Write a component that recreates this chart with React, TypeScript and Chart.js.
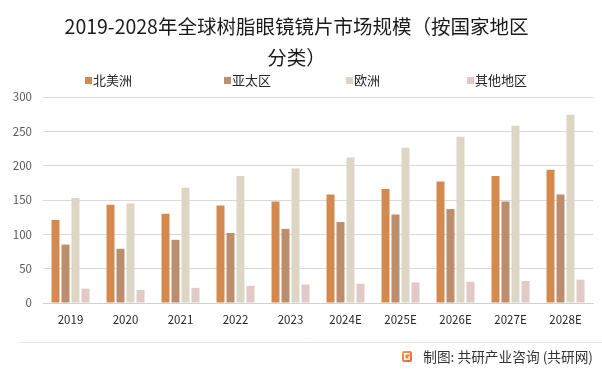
import React, { useEffect, useRef } from "react";
import { Chart, registerables } from "chart.js";

Chart.register(...registerables);

const categories = ["2019", "2020", "2021", "2022", "2023", "2024E", "2025E", "2026E", "2027E", "2028E"];
const northAmerica = [121, 143, 130, 142, 148, 158, 166, 177, 185, 194];
const asiaPacific = [85, 79, 92, 102, 108, 118, 129, 137, 148, 158];
const europe = [153, 145, 168, 185, 196, 212, 226, 242, 258, 274];
const others = [21, 19, 22, 25, 27, 28, 30, 31, 32, 34];
const seriesNames = ["北美洲", "亚太区", "欧洲", "其他地区"];
const seriesColors = ["#D48A4F", "#BC8E6E", "#DDD6C4", "#E1C9C7"];
const yTicks = [0, 50, 100, 150, 200, 250, 300];
const titleLines = ["2019-2028年全球树脂眼镜镜片市场规模（按国家地区", "分类）"];
const footerText = "制图: 共研产业咨询 (共研网)";

const FONT = "'Noto Sans CJK SC', 'Noto Sans', sans-serif";

const decorPlugin = {
  id: "decor",
  afterDraw(chart: any) {
    const ctx = chart.ctx as CanvasRenderingContext2D;
    ctx.save();
    // legend
    const legendX = [85, 224, 346, 467];
    ctx.font = `13px ${FONT}`;
    ctx.textBaseline = "middle";
    ctx.textAlign = "left";
    seriesNames.forEach((name, i) => {
      ctx.fillStyle = seriesColors[i];
      ctx.fillRect(legendX[i], 77, 7, 7);
      ctx.fillStyle = "#262626";
      ctx.fillText(name, legendX[i] + 8, 80.5);
    });
    // footer line
    ctx.strokeStyle = "#e3e3e3";
    ctx.lineWidth = 1;
    ctx.beginPath();
    ctx.moveTo(19, 342.5);
    ctx.lineTo(602, 342.5);
    ctx.stroke();
    // footer logo
    const grad = ctx.createLinearGradient(402, 351, 412, 363);
    grad.addColorStop(0, "#F5A04A");
    grad.addColorStop(1, "#E8603A");
    ctx.fillStyle = grad;
    ctx.beginPath();
    (ctx as any).roundRect ? (ctx as any).roundRect(402, 351, 10, 11, 2) : ctx.rect(402, 351, 10, 11);
    ctx.fill();
    ctx.fillStyle = "#ffffff";
    ctx.fillRect(404, 353, 6, 1.5);
    ctx.fillRect(404, 353, 1.5, 7);
    ctx.fillRect(404, 358.5, 6, 1.5);
    ctx.fillRect(408.5, 356, 1.5, 4);
    // footer text
    ctx.font = `13.7px ${FONT}`;
    ctx.fillStyle = "#333333";
    ctx.textAlign = "right";
    ctx.fillText(footerText, 593, 357);
    ctx.restore();
  },
};

export default function App() {
  const ref = useRef<HTMLCanvasElement | null>(null);
  useEffect(() => {
    document.body.style.margin = "0";
    const canvas = ref.current;
    if (!canvas) return;
    const data = [northAmerica, asiaPacific, europe, others];
    const chart = new Chart(canvas, {
      type: "bar",
      data: {
        labels: categories,
        datasets: seriesNames.map((name, i) => ({
          label: name,
          data: data[i],
          backgroundColor: seriesColors[i],
          borderWidth: 0,
          barPercentage: 0.8,
          categoryPercentage: 0.727,
        })),
      },
      plugins: [decorPlugin],
      options: {
        animation: false,
        responsive: false,
        maintainAspectRatio: false,
        devicePixelRatio: 1,
        layout: { padding: { left: 0, right: 9, top: 0, bottom: 0 } },
        plugins: {
          legend: { display: false },
          tooltip: { enabled: false },
          title: {
            display: true,
            text: titleLines,
            color: "#1a1a1a",
            font: { family: FONT, size: 19.5, weight: "normal", lineHeight: 1.59 },
            padding: { top: 11.5, bottom: 23.5 },
          },
        },
        scales: {
          x: {
            grid: { display: false, drawTicks: false },
            border: { display: true, color: "#d0d0d0" },
            ticks: {
              color: "#262626",
              font: { family: FONT, size: 11.5 },
              padding: 10,
              maxRotation: 0,
              autoSkip: false,
            },
            afterFit: (s: any) => {
              s.height = 71;
            },
          },
          y: {
            min: 0,
            max: 300,
            afterBuildTicks: (s: any) => {
              s.ticks = yTicks.map((v) => ({ value: v }));
            },
            grid: { color: "#d9d9d9", drawTicks: false, lineWidth: 1 },
            border: { display: false },
            ticks: {
              color: "#595959",
              font: { family: FONT, size: 11.5 },
              padding: 11,
            },
            afterFit: (s: any) => {
              s.width = 43;
            },
          },
        },
      },
    });
    return () => chart.destroy();
  }, []);
  return (
    <div style={{ width: 602, height: 374, background: "#ffffff" }}>
      <canvas ref={ref} width={602} height={374} style={{ display: "block", width: 602, height: 374 }} />
    </div>
  );
}
